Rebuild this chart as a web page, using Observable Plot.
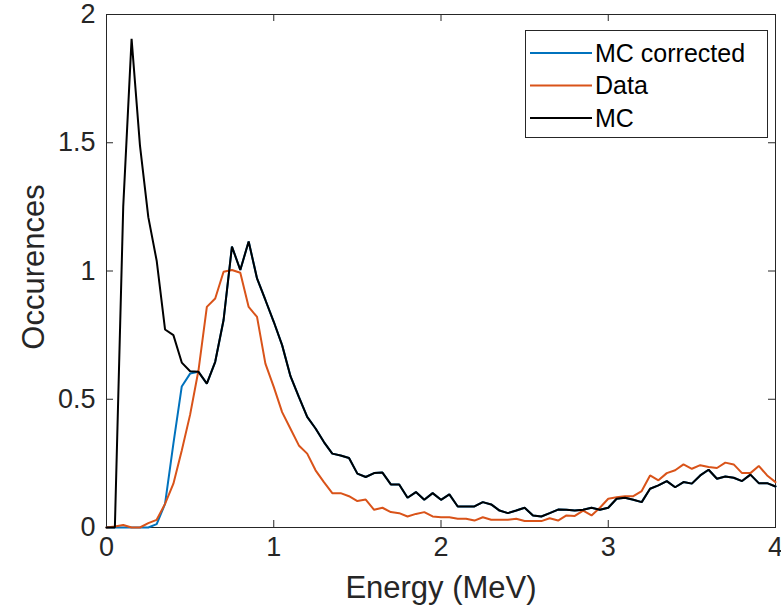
<!DOCTYPE html>
<html><head><meta charset="utf-8">
<script src="https://cdn.jsdelivr.net/npm/d3@7"></script>
<script src="https://cdn.jsdelivr.net/npm/@observablehq/plot@0.6"></script>
<style>
body{margin:0;background:#fff;font-family:"Liberation Sans",Arial,Helvetica,sans-serif;}
#wrap{position:relative;width:781px;height:616px;}
#legend{position:absolute;left:525px;top:30px;}
</style></head><body><div id="wrap"></div>
<script>
const energy = [0,0.05,0.1,0.15,0.2,0.25,0.3,0.35,0.4,0.45,0.5,0.55,0.6,0.65,0.7,0.75,0.8,0.85,0.9,0.95,
1,1.05,1.1,1.15,1.2,1.25,1.3,1.35,1.4,1.45,1.5,1.55,1.6,1.65,1.7,1.75,1.8,1.85,1.9,1.95,
2,2.05,2.1,2.15,2.2,2.25,2.3,2.35,2.4,2.45,2.5,2.55,2.6,2.65,2.7,2.75,2.8,2.85,2.9,2.95,
3,3.05,3.1,3.15,3.2,3.25,3.3,3.35,3.4,3.45,3.5,3.55,3.6,3.65,3.7,3.75,3.8,3.85,3.9,3.95,4];

const mcValues = [0,0,1.25,1.905,1.49,1.21,1.04,0.772,0.75,0.643,0.609,0.607,0.561,0.646,0.809,1.095,1.004,1.115,0.971,0.887,
0.802,0.711,0.59,0.509,0.431,0.386,0.333,0.288,0.281,0.271,0.21,0.197,0.212,0.214,0.168,0.168,0.116,0.138,0.108,0.134,
0.108,0.129,0.082,0.082,0.082,0.099,0.09,0.066,0.056,0.066,0.077,0.047,0.043,0.056,0.07,0.069,0.066,0.069,0.077,0.069,
0.077,0.112,0.116,0.108,0.099,0.151,0.164,0.181,0.157,0.177,0.171,0.203,0.225,0.19,0.199,0.194,0.181,0.206,0.173,0.173,0.16];

const mcCorrectedValues = [0,0,0,0,0,0,0.013,0.092,0.327,0.55,0.6,0.607,0.561,0.646,0.809,1.095,1.004,1.115,0.971,0.887,
0.802,0.711,0.59,0.509,0.431,0.386,0.333,0.288,0.281,0.271,0.21,0.197,0.212,0.214,0.168,0.168,0.116,0.138,0.108,0.134,
0.108,0.129,0.082,0.082,0.082,0.099,0.09,0.066,0.056,0.066,0.077,0.047,0.043,0.056,0.07,0.069,0.066,0.069,0.077,0.069,
0.077,0.112,0.116,0.108,0.099,0.151,0.164,0.181,0.157,0.177,0.171,0.203,0.225,0.19,0.199,0.194,0.181,0.206,0.173,0.173,0.16];

const dataValues = [0,0.004,0.01,0,0,0.017,0.03,0.092,0.171,0.3,0.44,0.613,0.86,0.893,0.997,1.004,0.993,0.86,0.821,0.639,
0.548,0.45,0.385,0.32,0.288,0.223,0.177,0.134,0.134,0.122,0.103,0.109,0.069,0.077,0.06,0.056,0.043,0.053,0.06,0.043,
0.04,0.04,0.034,0.034,0.027,0.04,0.03,0.03,0.03,0.034,0.025,0.025,0.025,0.036,0.027,0.047,0.045,0.066,0.047,0.077,
0.112,0.118,0.122,0.122,0.142,0.203,0.184,0.212,0.223,0.246,0.229,0.243,0.236,0.232,0.253,0.246,0.212,0.212,0.24,0.203,0.177];

const seriesNames = ["MC corrected","Data","MC"];
const seriesColors = ["#0072BD","#D95319","#000000"];
const xTicks = [0,1,2,3,4];
const xTickLabels = ["0","1","2","3","4"];
const yTicks = [0,0.5,1,1.5,2];
const yTickLabels = ["0","0.5","1","1.5","2"];
const xLabel = "Energy (MeV)";
const yLabel = "Occurences";

const seriesValues = [mcCorrectedValues, dataValues, mcValues];
const rows = [];
seriesNames.forEach((name, s) => {
  energy.forEach((e, i) => rows.push({series: name, energy: e, value: seriesValues[s][i]}));
});

const W = 781, H = 616, mL = 106, mR = 6, mT = 14, mB = 89;
const innerW = W - mL - mR, innerH = H - mT - mB;
const tickLen = 7;
const axisColor = "#262626";
const font = "'Liberation Sans', Arial, Helvetica, sans-serif";

const chart = Plot.plot({
  width: W, height: H,
  marginLeft: mL, marginRight: mR, marginTop: mT, marginBottom: mB,
  style: {fontFamily: font, color: axisColor, background: "#fff", overflow: "visible"},
  x: {domain: [0, 4], axis: null, label: null},
  y: {domain: [0, 2], axis: null, label: null},
  color: {domain: seriesNames, range: seriesColors},
  marks: [
    Plot.frame({stroke: axisColor, strokeWidth: 1}),
    Plot.tickX(xTicks, {x: d => d, insetTop: innerH - tickLen, stroke: axisColor}),
    Plot.tickX(xTicks, {x: d => d, insetBottom: innerH - tickLen, stroke: axisColor}),
    Plot.tickY(yTicks, {y: d => d, insetRight: innerW - tickLen, stroke: axisColor}),
    Plot.tickY(yTicks, {y: d => d, insetLeft: innerW - tickLen, stroke: axisColor}),
    Plot.text(xTicks, {x: d => d, frameAnchor: "bottom", lineAnchor: "top", dy: 9,
      text: (d, i) => xTickLabels[i], fontSize: 27, fill: axisColor}),
    Plot.text(yTicks, {y: d => d, frameAnchor: "left", textAnchor: "end", dx: -11,
      text: (d, i) => yTickLabels[i], fontSize: 27, fill: axisColor}),
    Plot.text([xLabel], {frameAnchor: "bottom", dy: 70, fontSize: 31, fill: axisColor}),
    Plot.text([yLabel], {frameAnchor: "left", textAnchor: "middle", rotate: -90, dx: -72, dy: -4, fontSize: 31, fill: axisColor}),
    Plot.line(rows, {x: "energy", y: "value", z: "series", stroke: "series", strokeWidth: 2, strokeLinejoin: "miter"})
  ]
});
const wrap = document.getElementById("wrap");
wrap.appendChild(chart);

// legend
const lg = d3.select(wrap).append("div").attr("id", "legend");
const svg = lg.append("svg").attr("width", 243).attr("height", 108);
svg.append("rect").attr("x", 0.5).attr("y", 0.5).attr("width", 242).attr("height", 107)
  .attr("fill", "#fff").attr("stroke", axisColor).attr("stroke-width", 1);
seriesNames.forEach((name, i) => {
  const cy = 23 + i * 32.5;
  svg.append("line").attr("x1", 5).attr("x2", 67).attr("y1", cy).attr("y2", cy)
    .attr("stroke", seriesColors[i]).attr("stroke-width", 2);
  svg.append("text").attr("x", 70).attr("y", cy).attr("dy", "0.35em")
    .attr("font-family", font).attr("font-size", 25).attr("fill", "#000").text(name);
});
</script></body></html>
